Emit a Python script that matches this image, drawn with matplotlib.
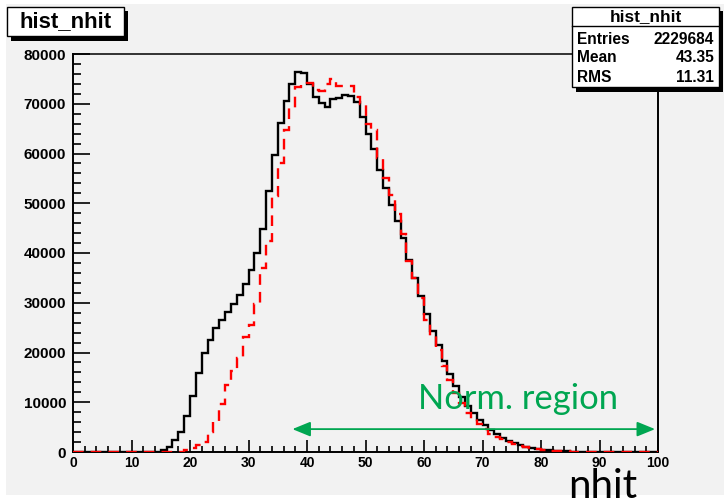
import numpy as np
import matplotlib.pyplot as plt
from matplotlib.patches import Rectangle
from matplotlib.ticker import MultipleLocator

plt.rcParams['font.family'] = ['Liberation Sans', 'DejaVu Sans']

# nhit histogram, 100 bins of width 1 from 0 to 100
bin_edges = np.arange(0, 101, 1)

data_counts = [0] * 14 + [
    100, 400, 1070, 2400, 4100, 7200, 11280, 15850, 19880, 22570,
    24920, 26600, 28070, 29750, 31640, 33850, 36670, 40030, 44730, 52460,
    59640, 66090, 70460, 73950, 76300, 76170, 73950, 71270, 70060, 69390,
    70930, 71130, 71800, 71600, 70260, 67340, 63950, 60850, 56690, 53130,
    49570, 46410, 43050, 38690, 34990, 31300, 27740, 24380, 21420, 18200,
    15720, 13300, 11150, 9330, 7930, 6450, 5440, 4430, 3560, 2890,
    2280, 1750, 1340, 1070, 810, 560, 420, 320, 240, 180,
    130, 100, 70, 50, 40, 30, 20, 15, 10, 10,
    5, 5, 5, 0, 0, 0]

mc_counts = [0] * 19 + [
    400, 740, 1500, 2080, 4100, 6320, 9700, 13500, 16320, 18800,
    23110, 25460, 29820, 37000, 42380, 51450, 58170, 64680, 69110, 73400,
    73750, 74090, 72800, 72600, 73950, 74960, 73610, 73610, 73610, 71270,
    69920, 66030, 64680, 59170, 55150, 51580, 47760, 43730, 38350, 34990,
    30970, 26600, 23370, 20500, 17300, 14510, 11950, 9800, 7930, 6700,
    5600, 4600, 3560, 3000, 2560, 2000, 1550, 1200, 950, 740,
    550, 400, 300, 220, 160, 120, 90, 60, 50, 40,
    30, 20, 15, 10, 10, 5, 5, 5, 0, 0, 0]

stats_labels = ['Entries', 'Mean', 'RMS']
stats_values = ['2229684', '43.35', '11.31']
norm_lo, norm_hi = 37.5, 99.5

W, H = 724, 501
BG = '#f2f2f2'
GREEN = '#00a651'

fig = plt.figure(figsize=(W / 100, H / 100), dpi=100)
fig.patch.set_facecolor('white')


def px_rect(x0, y0, x1, y1, **kw):
    # rectangle given in pixel coordinates measured from the top-left corner
    r = Rectangle((x0 / W, 1 - y1 / H), (x1 - x0) / W, (y1 - y0) / H,
                  transform=fig.transFigure, **kw)
    fig.add_artist(r)
    return r


def px_text(x, y, s, **kw):
    fig.text(x / W, 1 - y / H, s, **kw)


# canvas
px_rect(6, 4, W, 495, facecolor=BG, edgecolor='none', zorder=0)

ax = fig.add_axes([73 / W, 1 - 452 / H, (658 - 73) / W, (452 - 54) / H])
ax.set_facecolor(BG)

ax.stairs(data_counts, bin_edges, color='black', lw=1.7, zorder=3)
ax.stairs(mc_counts, bin_edges, color='red', lw=1.7, ls=(0, (4.5, 3)), zorder=4)

ax.set_xlim(0, 100)
ax.set_ylim(0, 80000)
ax.xaxis.set_major_locator(MultipleLocator(10))
ax.xaxis.set_minor_locator(MultipleLocator(2))
ax.yaxis.set_major_locator(MultipleLocator(10000))
ax.yaxis.set_minor_locator(MultipleLocator(2000))
ax.tick_params(axis='both', which='both', direction='in', width=1.2,
               colors='black')
ax.tick_params(axis='x', which='major', length=8.6, pad=3, labelsize=10)
ax.tick_params(axis='x', which='minor', length=4.3)
ax.tick_params(axis='y', which='major', length=12, pad=5, labelsize=11)
ax.tick_params(axis='y', which='minor', length=6)
for lab in ax.get_xticklabels() + ax.get_yticklabels():
    lab.set_fontweight('bold')
for side in ['left', 'bottom', 'right']:
    ax.spines[side].set_linewidth(1.4)
ax.spines['top'].set_linewidth(1.1)

# normalisation region
ax.annotate('', xy=(norm_lo, 4600), xytext=(norm_hi, 4600),
            arrowprops=dict(arrowstyle='<|-|>,head_length=1.1,head_width=0.45',
                            color=GREEN, lw=1.3, shrinkA=0, shrinkB=0), zorder=5)
ax.text(59, 8600, 'Norm. region', color=GREEN, fontsize=24.8,
        family=['Lato', 'DejaVu Sans'], va='baseline', ha='left', zorder=5)

# title box with shadow
px_rect(11, 11, 128, 41, facecolor='black', edgecolor='none', zorder=5)
px_rect(7, 7, 124, 36, facecolor='white', edgecolor='black', lw=1.0, zorder=6)
px_text(65.5, 22, 'hist_nhit', fontsize=16, fontweight='bold',
        ha='center', va='center', zorder=7)

# statistics box with shadow
px_rect(576, 11, 723, 92, facecolor='black', edgecolor='none', zorder=5)
px_rect(572, 7, 719, 87, facecolor='white', edgecolor='black', lw=1.0, zorder=6)
fig.add_artist(plt.Line2D([572 / W, 719 / W], [1 - 26 / H, 1 - 26 / H],
                          transform=fig.transFigure, color='black', lw=1.0, zorder=7))
px_text(645.5, 16.5, 'hist_nhit', fontsize=12.4, fontweight='bold',
        ha='center', va='center', zorder=7)
for i, (lab, val) in enumerate(zip(stats_labels, stats_values)):
    y = 39 + i * 19
    px_text(577, y, lab, fontsize=11.2, fontweight='bold', ha='left', va='center', zorder=7)
    px_text(714, y, val, fontsize=11.2, fontweight='bold', ha='right', va='center', zorder=7)

# axis title
px_text(603, 498, 'nhit', fontsize=29, family=['Lato', 'DejaVu Sans'],
        ha='center', va='baseline', zorder=7)

fig.savefig('out.png', dpi=100)
